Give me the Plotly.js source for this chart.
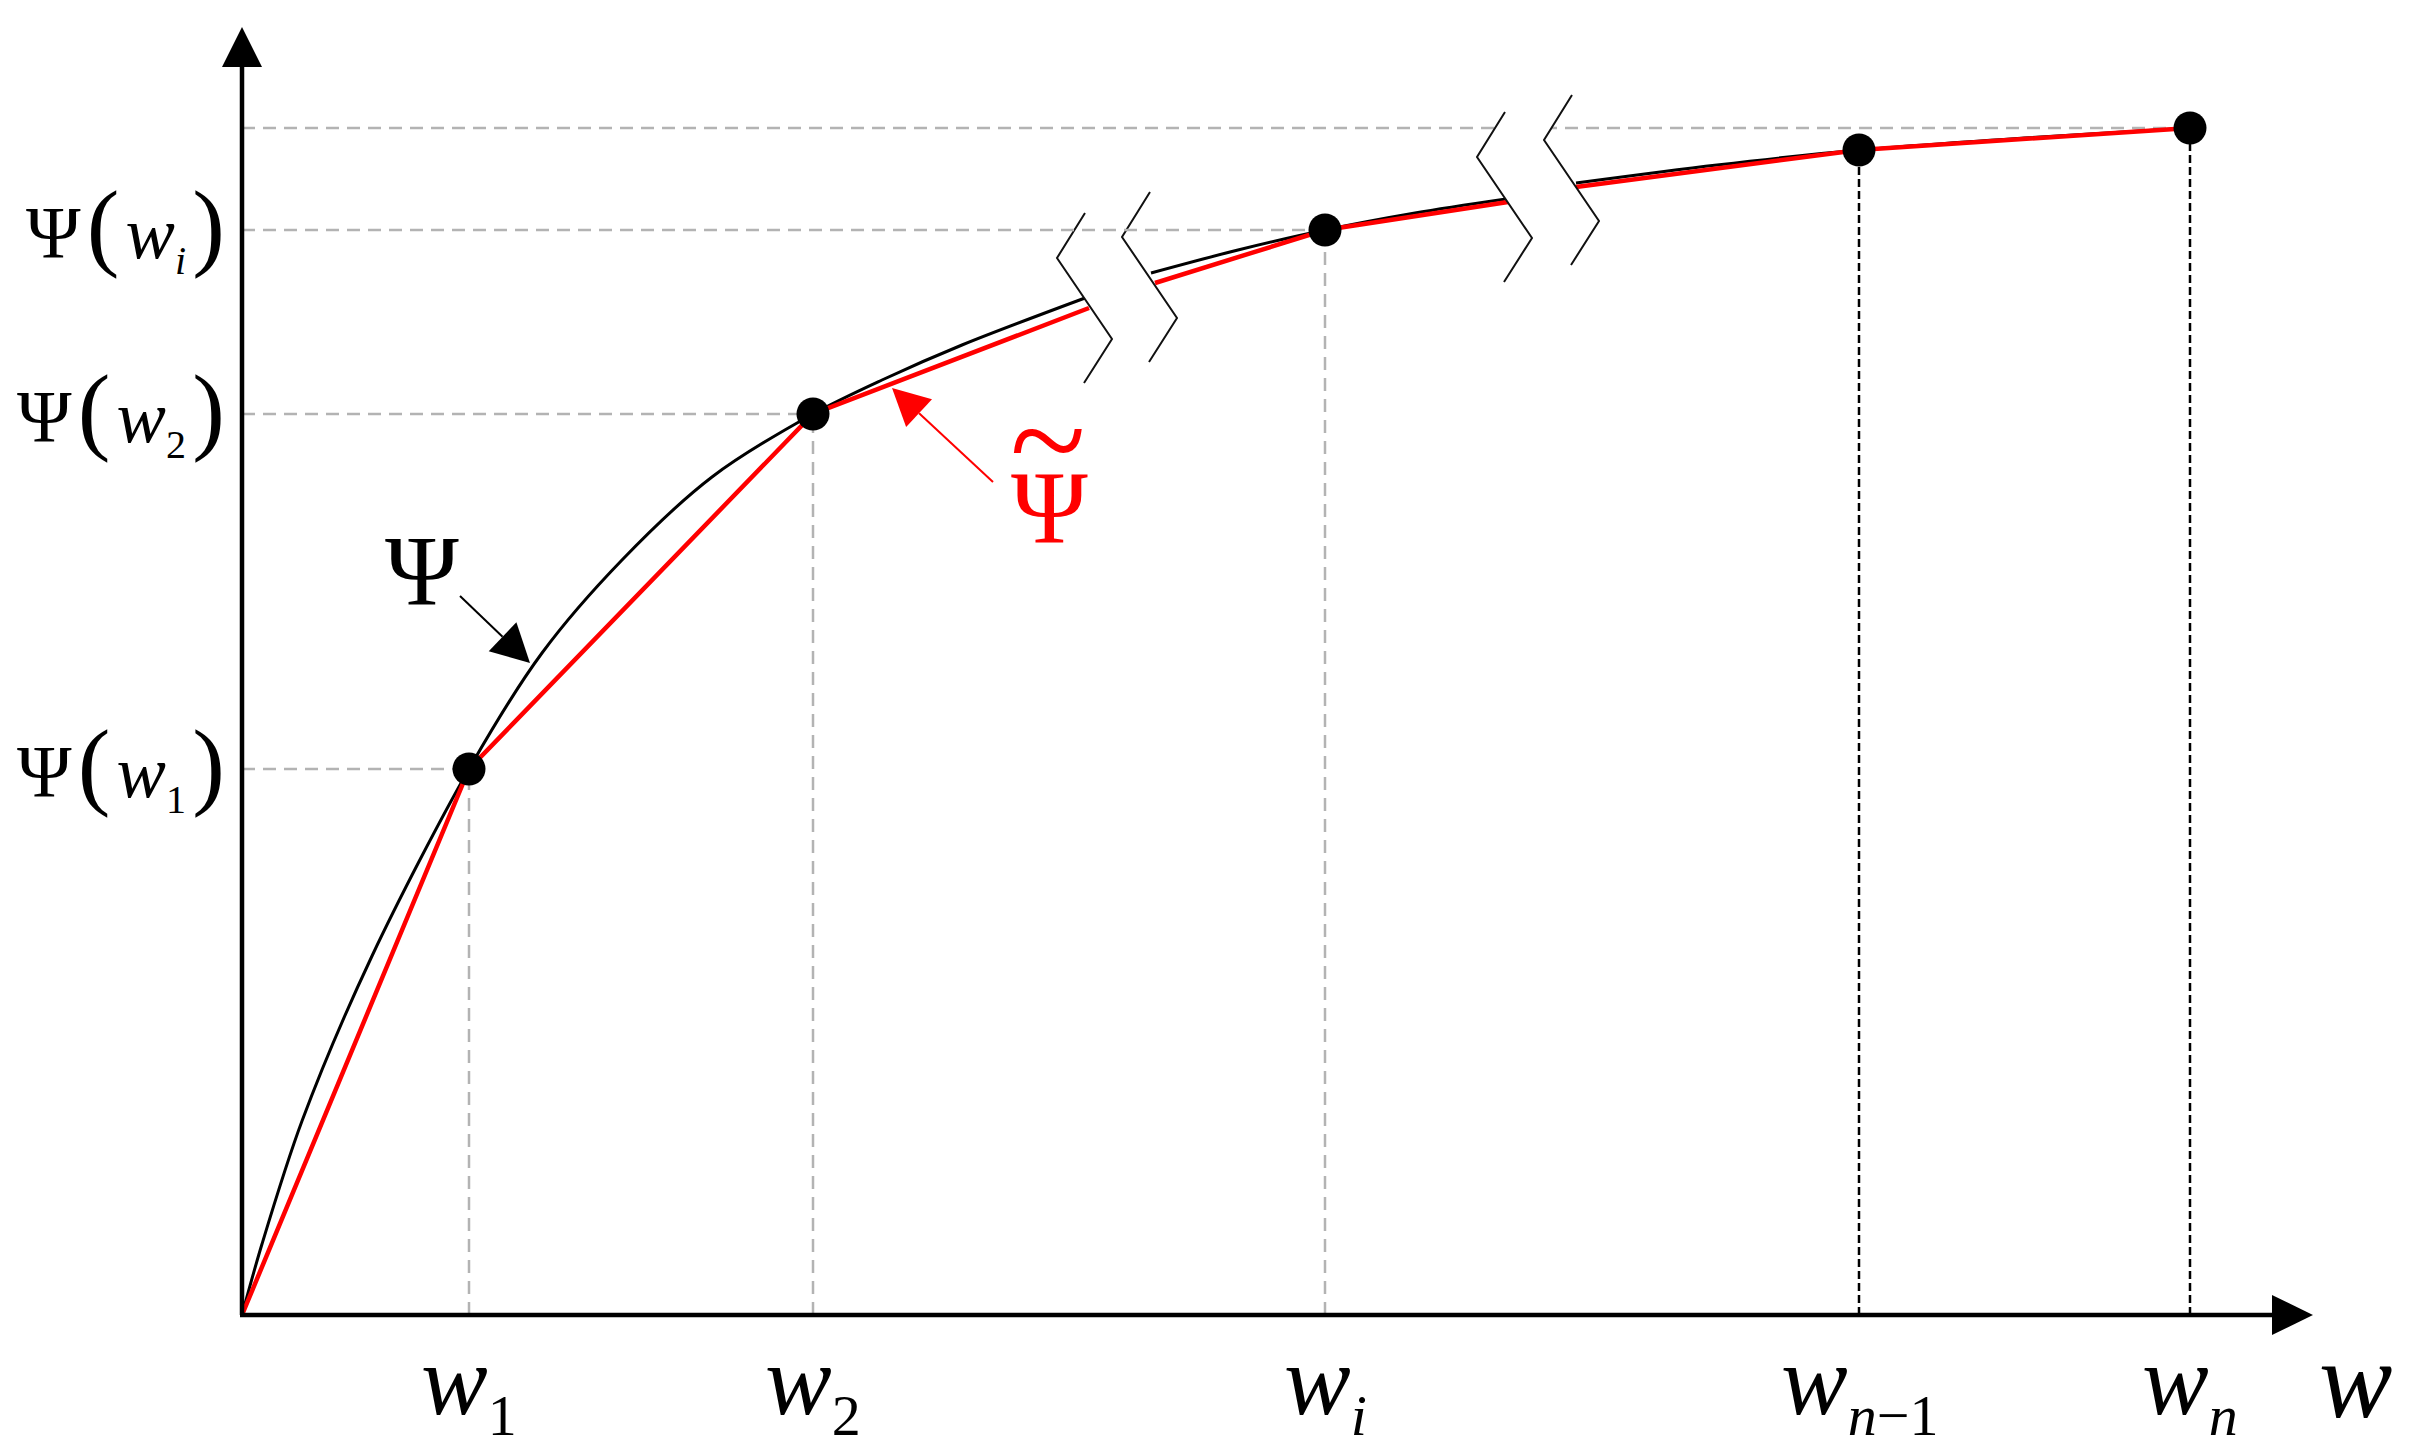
<!DOCTYPE html>
<html><head><meta charset="utf-8">
<script src="https://cdn.plot.ly/plotly-3.0.1.min.js"></script>
<style>html,body{margin:0;padding:0;background:#fff;} #chart{width:2421px;height:1445px;}</style>
</head><body><div id="chart"></div>
<script>
// ---- data (drawing units: abscissa w, ordinate Psi) ----
const nodeW   = [227, 571, 1083, 1617, 1948];
const nodePsi = [546, 901, 1085, 1165, 1187];
const nodeSubs = ['1', '2', '<i>i</i>', '<i>n</i>\u22121', '<i>n</i>'];
const psiTickNodes = [0, 1, 2];
const psiTickSubs  = ['1', '2', '<i>i</i>'];
const hGuide = [true, true, true, false, true];
const vGuideDark = [false, false, false, true, true];

// exact function Psi (black), null = axis break
const curveW   = [0, 20, 60, 130, 227, 300, 380, 470, 571, 640, 720, 843, null, 909, 996, 1083, 1173, 1264, null, 1334, 1475, 1617, 1782, 1948];
const curvePsi = [0, 71, 194, 359, 546, 662, 755, 838, 901, 935, 970, 1017, null, 1042, 1065, 1085, 1102, 1116, null, 1132, 1150, 1165, 1177, 1187];
// piecewise-linear approximation (red)
const approxW   = [0, 227, 571, 847, null, 913, 1083, 1266, null, 1334, 1617, 1948];
const approxPsi = [0, 546, 901, 1007, null, 1032, 1085, 1113, null, 1128, 1165, 1187];

// ---- geometry helpers ----
const XR = [-242, 2179], YR = [-130, 1315];
const GREY = '#b3b3b3';
const FONT = '"Liberation Serif", "Times New Roman", Times, "DejaVu Serif", serif';

function triangle(tip, tail, L, W) {
  const dx = tip[0] - tail[0], dy = tip[1] - tail[1];
  const n = Math.hypot(dx, dy), ux = dx / n, uy = dy / n;
  const bx = tip[0] - L * ux, by = tip[1] - L * uy;
  const px = -uy * W / 2, py = ux * W / 2;
  return {path: `M${tip[0]},${tip[1]} L${bx + px},${by + py} L${bx - px},${by - py} Z`, base: [bx, by]};
}
function arrow(tail, tip, color, width, L, W) {
  const t = triangle(tip, tail, L, W);
  return [
    {type: 'line', layer: 'above', x0: tail[0], y0: tail[1], x1: t.base[0], y1: t.base[1], line: {color: color, width: width}},
    {type: 'path', layer: 'above', path: t.path, fillcolor: color, line: {width: 0}}
  ];
}
// break symbol: two zigzags (template offsets from top point)
const zig = [[0, 0], [-28, -45], [27, -126], [-1, -170]];
function zigPts(top) { return zig.map(p => [top[0] + p[0], top[1] + p[1]]); }
function breakShapes(leftTop, rightTop) {
  const L = zigPts(leftTop), R = zigPts(rightTop);
  const poly = L.concat(R.slice().reverse());
  const fill = {type: 'path', layer: 'above', path: 'M' + poly.map(p => p.join(',')).join(' L') + ' Z', fillcolor: '#fff', line: {width: 0}};
  const line = pts => ({type: 'path', layer: 'above', path: 'M' + pts.map(p => p.join(',')).join(' L'), line: {color: '#111', width: 2}});
  return [fill, line(L), line(R)];
}

const shapes = [];
nodeW.forEach((w, i) => {
  if (hGuide[i] && i !== 2) shapes.push({type: 'line', layer: 'below', x0: 0, x1: w, y0: nodePsi[i], y1: nodePsi[i], line: {color: GREY, width: 2.5, dash: '13px,8px'}});
  shapes.push({type: 'line', layer: 'below', x0: w, x1: w, y0: 0, y1: nodePsi[i],
    line: vGuideDark[i] ? {color: '#000', width: 2.5, dash: '8px,4px'} : {color: GREY, width: 2.5, dash: '13px,8px'}});
});
shapes.push(...breakShapes([843, 1102], [908, 1123]));
shapes.push(...breakShapes([1263, 1203], [1330, 1220]));
shapes.push({type: 'line', layer: 'above', x0: 0, x1: nodeW[2] - 16, y0: nodePsi[2], y1: nodePsi[2], line: {color: GREY, width: 2.5, dash: '13px,8px'}});
// axes with arrowheads
shapes.push(...arrow([0, 0], [0, 1288], '#000', 4.5, 40, 40));
shapes.push(...arrow([-2, 0], [2071, 0], '#000', 4.5, 41, 40));
// label pointers
shapes.push(...arrow([218, 719], [288, 652], '#000', 2, 38, 40));
shapes.push(...arrow([751, 833], [650, 927], '#ff0000', 2, 37, 38));

const annotations = [];
nodeW.forEach((w, i) => {
  annotations.push({xref: 'x', yref: 'y', x: w, y: -8, xanchor: 'center', yanchor: 'top', showarrow: false,
    text: '<i>w</i><sub><span style="font-size:58px">' + nodeSubs[i] + '</span></sub>',
    font: {family: FONT, size: 100, color: '#000'}});
});
const P = s => '<span style="font-size:98px">' + s + '</span>';
psiTickNodes.forEach((k, j) => {
  annotations.push({xref: 'x', yref: 'y', x: -15, y: nodePsi[k] + 3, xanchor: 'right', yanchor: 'middle', showarrow: false,
    text: 'Ψ\u200a' + P('(') + '\u200a<i>w</i><sub><span style="font-size:40px">' + psiTickSubs[j] + '</span></sub>\u200a' + P(')'),
    font: {family: FONT, size: 74, color: '#000'}});
});
annotations.push({xref: 'x', yref: 'y', x: 2113, y: -2, xanchor: 'center', yanchor: 'top', showarrow: false,
  text: '<i>w</i>', font: {family: FONT, size: 110, color: '#000'}});
annotations.push({xref: 'x', yref: 'y', x: 180, y: 745, xanchor: 'center', yanchor: 'middle', showarrow: false,
  text: 'Ψ', font: {family: FONT, size: 100, color: '#000'}});
annotations.push({xref: 'x', yref: 'y', x: 807, y: 808, xanchor: 'center', yanchor: 'middle', showarrow: false,
  text: 'Ψ', font: {family: FONT, size: 104, color: '#ff0000'}});
annotations.push({xref: 'x', yref: 'y', x: 806, y: 876, xanchor: 'center', yanchor: 'middle', showarrow: false,
  text: '~', font: {family: FONT, size: 140, color: '#ff0000'}});

const traces = [
  {x: curveW, y: curvePsi, type: 'scatter', mode: 'lines', line: {color: '#000', width: 3, shape: 'spline', smoothing: 0.9}, connectgaps: false, hoverinfo: 'skip'},
  {x: approxW, y: approxPsi, type: 'scatter', mode: 'lines', line: {color: '#ff0000', width: 4.5}, connectgaps: false, hoverinfo: 'skip'},
  {x: nodeW, y: nodePsi, type: 'scatter', mode: 'markers', marker: {color: '#000', size: 33}, hoverinfo: 'skip'}
];

const layout = {
  width: 2421, height: 1445,
  margin: {l: 0, r: 0, t: 0, b: 0},
  paper_bgcolor: '#fff', plot_bgcolor: '#fff',
  showlegend: false,
  font: {family: FONT},
  xaxis: {range: XR, visible: false, fixedrange: true},
  yaxis: {range: YR, visible: false, fixedrange: true},
  shapes: shapes, annotations: annotations
};
Plotly.newPlot('chart', traces, layout, {staticPlot: true, displayModeBar: false});
</script></body></html>
